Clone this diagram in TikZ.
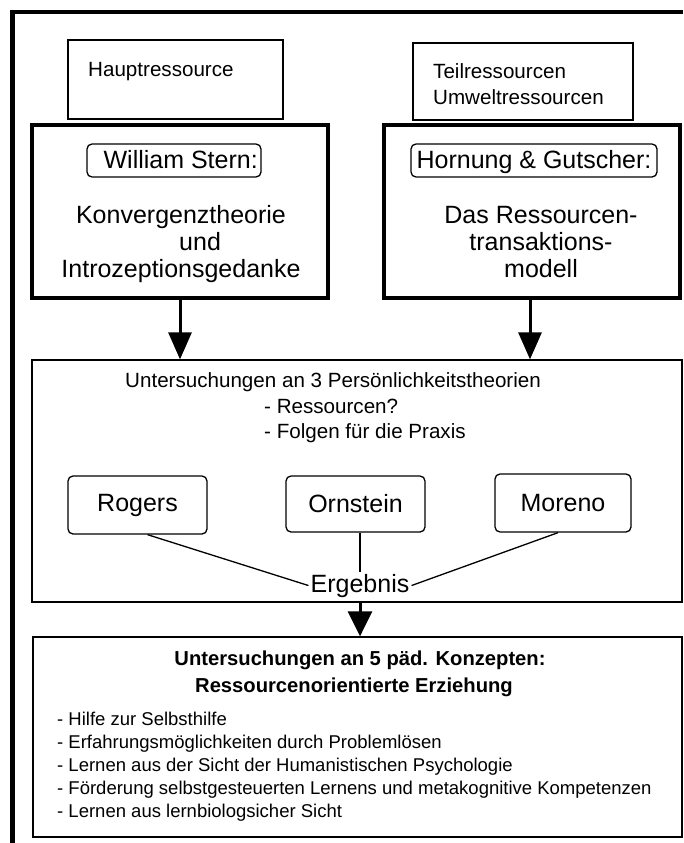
\documentclass[tikz,border=0pt]{standalone}
\usepackage{fontspec}
\setmainfont{Liberation Sans}
\usetikzlibrary{arrows.meta,calc}
\begin{document}
\begin{tikzpicture}[x=1pt,y=-1pt,
  box/.style={draw, line width=1.3pt, inner sep=0pt},
  thickbox/.style={draw, line width=3.2pt, inner sep=0pt},
  labelbox/.style={draw, line width=1.3pt, rounded corners=5pt, inner sep=0pt},
  persbox/.style={draw, line width=1.3pt, rounded corners=5pt, inner sep=0pt,
    font=\fontsize{25}{28}\selectfont},
  bigtxt/.style={font=\fontsize{25}{28}\selectfont, inner sep=0pt},
  midtxt/.style={font=\fontsize{20.6}{24}\selectfont, inner sep=0pt},
  smalltxt/.style={font=\fontsize{18.5}{22}\selectfont, inner sep=0pt},
  boldtxt/.style={font=\fontsize{20.2}{24}\selectfont\bfseries, inner sep=0pt},
  arr/.style={line width=3pt, -{Triangle[length=27pt, width=23pt]}},
  link/.style={line width=1.3pt}
]
\useasboundingbox (0,0) rectangle (683,843);
\fill[white] (0,0) rectangle (683,843);

% outer frame (open to the right and bottom)
\draw[line width=4.5pt] (12.5,843) -- (12.5,12) -- (683,12);

% resource headers
\node[box, minimum width=215pt, minimum height=79pt] (haupt) at (175.5,79.5) {};
\node[midtxt, anchor=base west] (hauptT) at (88,77) {Hauptressource};
\node[box, minimum width=220pt, minimum height=77pt] (teil) at (523,81.5) {};
\node[midtxt, anchor=base west] (teilT1) at (433,78) {Teilressourcen};
\node[midtxt, anchor=base west] (teilT2) at (433,104) {Umweltressourcen};

% theory boxes
\node[thickbox, minimum width=296pt, minimum height=173pt] (stern) at (180,211.5) {};
\node[thickbox, minimum width=296pt, minimum height=173pt] (horn) at (532,211.5) {};

\node[labelbox, minimum width=174pt, minimum height=33pt] (sternL) at (174,160.5) {};
\node[bigtxt, anchor=base east] (sternLT) at (258,168) {William Stern:};
\node[labelbox, minimum width=246pt, minimum height=33pt] (hornL) at (534,160.5) {};
\node[bigtxt, anchor=base] (hornLT) at (534,168) {Hornung \& Gutscher:};

\node[bigtxt, anchor=base] (s1) at (181,223) {Konvergenztheorie};
\node[bigtxt, anchor=base west] (s2) at (179,250) {und};
\node[bigtxt, anchor=base] (s3) at (181,277) {Introzeptionsgedanke};

\node[bigtxt, anchor=base] (h1) at (541,223) {Das Ressourcen-};
\node[bigtxt, anchor=base] (h2) at (541,250) {transaktions-};
\node[bigtxt, anchor=base] (h3) at (541,277) {modell};

% personality theories
\node[box, minimum width=650pt, minimum height=242pt] (mid) at (357,481) {};
\node[midtxt, anchor=base west] (m1) at (125,387) {Untersuchungen an 3 Persönlichkeitstheorien};
\node[midtxt, anchor=base west] (m2) at (264,413) {- Ressourcen?};
\node[midtxt, anchor=base west] (m3) at (264,438) {- Folgen für die Praxis};

\node[persbox, minimum width=139pt, minimum height=58pt] (rogers) at (137.5,505) {Rogers};
\node[persbox, minimum width=139pt, minimum height=56pt] (orn) at (355.5,504) {Ornstein};
\node[persbox, minimum width=136pt, minimum height=58pt] (moreno) at (563,503) {Moreno};

\node[font=\fontsize{25}{28}\selectfont, inner sep=2pt, anchor=base] (erg) at (360,592) {Ergebnis};

\draw[link] ([xshift=10pt]rogers.south) -- (erg.west);
\draw[link] (erg.north |- orn.south) -- (erg.north);
\draw[link] ([xshift=-5pt]moreno.south) -- (erg.east);

% pedagogical concepts
\node[box, minimum width=649pt, minimum height=200pt] (bot) at (357.5,737) {};
\node[boldtxt, anchor=base] (b1) at (360,665) {Untersuchungen an 5 päd. Konzepten:};
\node[boldtxt, anchor=base] (b2) at (354,692) {Ressourcenorientierte Erziehung};
\node[smalltxt, anchor=base west] (l1) at (57,725) {- Hilfe zur Selbsthilfe};
\node[smalltxt, anchor=base west] (l2) at (57,748) {- Erfahrungsmöglichkeiten durch Problemlösen};
\node[smalltxt, anchor=base west] (l3) at (57,771) {- Lernen aus der Sicht der Humanistischen Psychologie};
\node[smalltxt, anchor=base west] (l4) at (57,794) {- Förderung selbstgesteuerten Lernens und metakognitive Kompetenzen};
\node[smalltxt, anchor=base west] (l5) at (57,817) {- Lernen aus lernbiologsicher Sicht};

% arrows
\draw[arr] (stern.south) -- (stern.south |- mid.north);
\draw[arr] ([xshift=-2pt]horn.south) -- ([xshift=-2pt]horn.south |- mid.north);
\draw[arr, -{Triangle[length=25pt, width=24pt]}] (erg.south |- mid.south) -- (erg.south |- bot.north);
\end{tikzpicture}
\end{document}
